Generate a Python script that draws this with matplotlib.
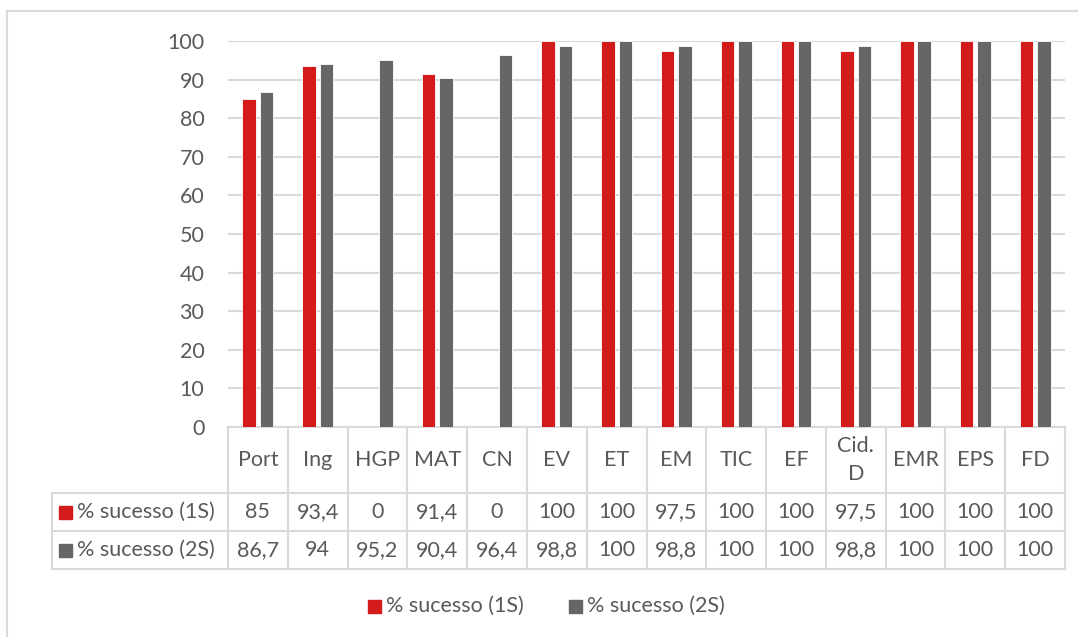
import matplotlib
matplotlib.use("Agg")
import matplotlib.pyplot as plt
from matplotlib.lines import Line2D
from matplotlib.patches import Rectangle
import numpy as np

categories = ["Port", "Ing", "HGP", "MAT", "CN", "EV", "ET", "EM", "TIC", "EF", "Cid.\nD", "EMR", "EPS", "FD"]
s1 = [85, 93.4, 0, 91.4, 0, 100, 100, 97.5, 100, 100, 97.5, 100, 100, 100]
s2 = [86.7, 94, 95.2, 90.4, 96.4, 98.8, 100, 98.8, 100, 100, 98.8, 100, 100, 100]
s1_label = "% sucesso (1S)"
s2_label = "% sucesso (2S)"
yticks = list(range(0, 101, 10))

RED = "#D41B1B"
GRAY = "#666666"
TXT = "#595959"
GRID = "#D9D9D9"
FONT = "Lato"
FS = 15.5

W, H = 1078, 637
fig = plt.figure(figsize=(W / 100, H / 100), dpi=100)

def fx(px):
    return px / W

def fy(py):
    return 1 - py / H

ax_l, ax_r, ax_t, ax_b = 228, 1065, 41, 427
ax = fig.add_axes([fx(ax_l), fy(ax_b), fx(ax_r) - fx(ax_l), fy(ax_t) - fy(ax_b)])
n = len(categories)
x = np.arange(n)
bw = 0.225
off = 0.145
ax.bar(x - off, s1, bw, color=RED, edgecolor="white", linewidth=0.6, zorder=3)
ax.bar(x + off, s2, bw, color=GRAY, edgecolor="white", linewidth=0.6, zorder=3)
ax.set_xlim(-0.5, n - 0.5)
ax.set_ylim(0, 100)
ax.set_yticks(yticks)
ax.set_yticklabels([str(v) for v in yticks], fontsize=FS, color=TXT, family=FONT)
ax.tick_params(axis="y", length=0, pad=17)
ax.set_xticks([])
ax.yaxis.grid(True, color=GRID, linewidth=1.5, zorder=0)
ax.set_axisbelow(True)
for s in ["top", "right", "left"]:
    ax.spines[s].set_visible(False)
ax.spines["bottom"].set_color(GRID)
ax.spines["bottom"].set_linewidth(1.5)
ax.patch.set_alpha(0)

# chart border (top and left only visible)
fig.add_artist(Line2D([fx(7), 1], [fy(11), fy(11)], color="#D9D9D9", lw=1.5))
fig.add_artist(Line2D([fx(7), fx(7)], [fy(11), 0], color="#D9D9D9", lw=1.5))

# data table
colw = (ax_r - ax_l) / n
row_hdr = (427, 493)
row1 = (493, 531)
row2 = (531, 569)
tbl_left = 52
lw = 1.5
for yy in [493, 531, 569]:
    fig.add_artist(Line2D([fx(tbl_left), fx(ax_r)], [fy(yy), fy(yy)], color=GRID, lw=lw))
for i in range(n + 1):
    xx = ax_l + i * colw
    fig.add_artist(Line2D([fx(xx), fx(xx)], [fy(427), fy(569)], color=GRID, lw=lw))
fig.add_artist(Line2D([fx(tbl_left), fx(tbl_left)], [fy(493), fy(569)], color=GRID, lw=lw))

def fmt(v):
    return ("%g" % v).replace(".", ",")

for i, cat in enumerate(categories):
    cx = ax_l + (i + 0.5) * colw
    fig.text(fx(cx), fy((row_hdr[0] + row_hdr[1]) / 2), cat, ha="center", va="center",
             fontsize=FS, color=TXT, family=FONT, linespacing=1.55)
    fig.text(fx(cx), fy((row1[0] + row1[1]) / 2), fmt(s1[i]), ha="center", va="center",
             fontsize=FS, color=TXT, family=FONT)
    fig.text(fx(cx), fy((row2[0] + row2[1]) / 2), fmt(s2[i]), ha="center", va="center",
             fontsize=FS, color=TXT, family=FONT)

for (r, lab, col) in [(row1, s1_label, RED), (row2, s2_label, GRAY)]:
    cy = (r[0] + r[1]) / 2
    fig.add_artist(Rectangle((fx(59), fy(cy + 6.5)), fx(13), fy(0) - fy(13), color=col,
                             transform=fig.transFigure))
    fig.text(fx(77), fy(cy), lab, ha="left", va="center", fontsize=FS, color=TXT, family=FONT)

ly = 606
for (sx, lab, col) in [(368, s1_label, RED), (569, s2_label, GRAY)]:
    fig.add_artist(Rectangle((fx(sx), fy(ly + 6.5)), fx(13), fy(0) - fy(13), color=col,
                             transform=fig.transFigure))
    fig.text(fx(sx + 18), fy(ly), lab, ha="left", va="center", fontsize=FS, color=TXT, family=FONT)

fig.savefig("out.png", dpi=100, facecolor="white")
